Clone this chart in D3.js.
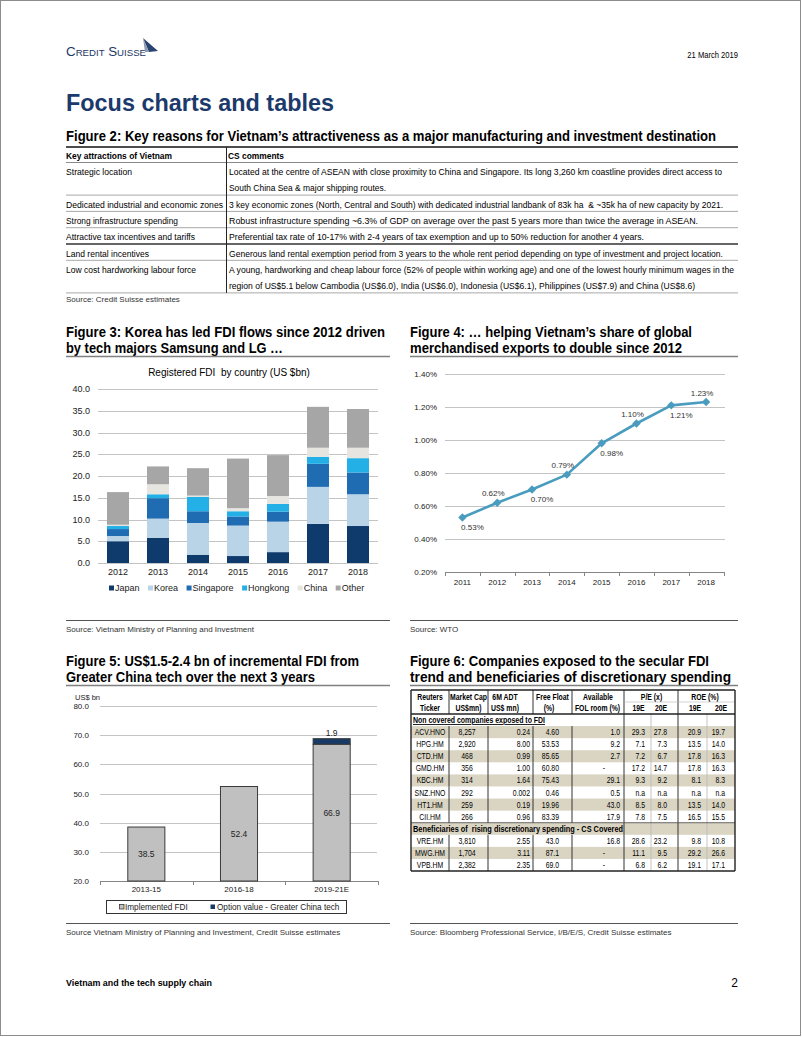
<!DOCTYPE html>
<html><head><meta charset="utf-8">
<script src="https://cdn.jsdelivr.net/npm/d3@7"></script>
<style>
html,body{margin:0;padding:0;background:#fff;}
svg{display:block;}
text{font-family:"Liberation Sans",Arial,Helvetica,sans-serif;white-space:pre;}
</style></head><body>
<script>
// ---------------- DATA ----------------
// Figure 2 table
const attractions = ["Strategic location","Dedicated industrial and economic zones","Strong infrastructure spending","Attractive tax incentives and tariffs","Land rental incentives","Low cost hardworking labour force"];
const comments = [
  ["Located at the centre of ASEAN with close proximity to China and Singapore. Its long 3,260 km coastline provides direct access to","South China Sea & major shipping routes."],
  ["3 key economic zones (North, Central and South) with dedicated industrial landbank of 83k ha  & ~35k ha of new capacity by 2021."],
  ["Robust infrastructure spending ~6.3% of GDP on average over the past 5 years more than twice the average in ASEAN."],
  ["Preferential tax rate of 10-17% with 2-4 years of tax exemption and up to 50% reduction for another 4 years."],
  ["Generous land rental exemption period from 3 years to the whole rent period depending on type of investment and project location."],
  ["A young, hardworking and cheap labour force (52% of people within working age) and one of the lowest hourly minimum wages in the","region of US$5.1 below Cambodia (US$6.0), India (US$6.0), Indonesia (US$6.1), Philippines (US$7.9) and China (US$8.6)"]
];
// Figure 3 stacked bars (US$bn)
const fdiYears = ["2012","2013","2014","2015","2016","2017","2018"];
const fdiSeries = ["Japan","Korea","Singapore","Hongkong","China","Other"];
const fdiJapan     = [5.0, 5.8, 1.9, 1.6, 2.5, 9.0, 8.5];
const fdiKorea     = [1.2, 4.4, 7.3, 7.0, 7.0, 8.5, 7.3];
const fdiSingapore = [1.6, 4.7, 2.7, 2.1, 2.3, 5.3, 5.0];
const fdiHongkong  = [0.7, 0.9, 3.3, 1.2, 1.8, 1.6, 3.3];
const fdiChina     = [0.3, 2.3, 0.3, 0.7, 1.8, 2.1, 2.4];
const fdiOther     = [7.5, 4.1, 6.3, 11.4, 9.4, 9.4, 8.9];
const fdiTicks = [0,5,10,15,20,25,30,35,40];
// Figure 4 line (%)
const shareYears = ["2011","2012","2013","2014","2015","2016","2017","2018"];
const shareValues = [0.53, 0.62, 0.70, 0.79, 0.98, 1.10, 1.21, 1.23];
const shareTicks = [0.2,0.4,0.6,0.8,1.0,1.2,1.4];
// Figure 5 bars (US$bn)
const incPeriods = ["2013-15","2016-18","2019-21E"];
const incImplemented = [38.5, 52.4, 66.9];
const incOption = [0, 0, 1.9];
const incTicks = [20,30,40,50,60,70,80];
const incSeries = ["Implemented FDI","Option value - Greater China tech"];
// Figure 6 table
const t6Sections = ["Non covered companies exposed to FDI","Beneficiaries of  rising discretionary spending - CS Covered"];
const t6SectionSizes = [8, 3];
const tickers   = ["ACV.HNO","HPG.HM","CTD.HM","GMD.HM","KBC.HM","SNZ.HNO","HT1.HM","CII.HM","VRE.HM","MWG.HM","VPB.HM"];
const marketCap = ["8,257","2,920","468","356","314","292","259","266","3,810","1,704","2,382"];
const adt6m     = ["0.24","8.00","0.99","1.00","1.64","0.002","0.19","0.96","2.55","3.11","2.35"];
const freeFloat = ["4.60","53.53","85.65","60.80","75.43","0.46","19.96","83.39","43.0","87.1","69.0"];
const folRoom   = ["1.0","9.2","2.7","-","29.1","0.5","43.0","17.9","16.8","-","-"];
const pe19      = ["29.3","7.1","7.2","17.2","9.3","n.a","8.5","7.8","28.6","11.1","6.8"];
const pe20      = ["27.8","7.3","6.7","14.7","9.2","n.a","8.0","7.5","23.2","9.5","6.2"];
const roe19     = ["20.9","13.5","17.8","17.8","8.1","n.a","13.5","16.5","9.8","29.2","19.1"];
const roe20     = ["19.7","14.0","16.3","16.3","8.3","n.a","14.0","15.5","10.8","26.6","17.1"];
const t6Head1 = ["Reuters","Market Cap","6M ADT","Free Float","Available","P/E (x)","ROE (%)"];
const t6Head2 = ["Ticker","US$mn)","US$ mn)","(%)","FOL room (%)","19E","20E","19E","20E"];

// ---------------- STYLE ----------------
const fdiColors = ["#0e3a6c","#b9d4e7","#1f6cb3","#22b0e6","#e6e5e0","#a6a6a6"];
const navy = "#1b3a6b";

// ---------------- HELPERS ----------------
const svg = d3.select("body").append("svg").attr("width",802).attr("height",1037);
svg.append("rect").attr("width",802).attr("height",1037).attr("fill","#fff");
svg.append("rect").attr("x",0.5).attr("y",0.5).attr("width",800).attr("height",1035)
  .attr("fill","none").attr("stroke","#8c8c8c");

function txt(g, x, y, s, o = {}) {
  const t = g.append("text").attr("x", x).attr("y", y)
    .attr("font-size", o.size || 9).attr("fill", o.fill || "#000").text(s);
  if (o.weight) t.attr("font-weight", o.weight);
  if (o.anchor) t.attr("text-anchor", o.anchor);
  if (o.family) t.attr("font-family", o.family);
  if (o.width) t.attr("textLength", o.width).attr("lengthAdjust", "spacingAndGlyphs");
  if (o.sx && o.sx !== 1) t.attr("x", 0).attr("y", 0).attr("transform", `translate(${x},${y}) scale(${o.sx},1)`);
  if (o.deco) t.attr("text-decoration", o.deco);
  if (o.variant) t.style("font-variant", o.variant);
  return t;
}
function ln(g, x1, y1, x2, y2, stroke, w) {
  return g.append("line").attr("x1",x1).attr("y1",y1).attr("x2",x2).attr("y2",y2)
    .attr("stroke",stroke).attr("stroke-width",w||1);
}
const crisp = v => Math.round(v) + 0.5;

// ---------------- HEADER ----------------
txt(svg, 66, 56, "Credit Suisse", {size:12.5, family:"'Liberation Serif',serif", fill:"#1e3764", width:80, variant:"small-caps"});
svg.append("path").attr("d","M143,38 L158,51 L149,52 Z").attr("fill","#2a4470");
svg.append("path").attr("d","M143,38 L149,52 L145,52 Z").attr("fill","#8e9bb3");
txt(svg, 738, 58, "21 March 2019", {size:9.5, anchor:"end", sx:0.8});
txt(svg, 66, 111, "Focus charts and tables", {size:24.5, weight:"bold", fill:navy, width:268});

// ---------------- FIGURE 2 ----------------
const g2 = svg.append("g");
txt(g2, 66, 141, "Figure 2: Key reasons for Vietnam\u2019s attractiveness as a major manufacturing and investment destination", {size:14.5, weight:"bold", width:650});
ln(g2, 66, 147, 738, 147, "#4d4d4d", 2);
txt(g2, 66, 158.5, "Key attractions of Vietnam", {size:9.6, weight:"bold", width:106});
txt(g2, 228, 158.5, "CS comments", {size:9.6, weight:"bold", width:56});
ln(g2, 66, 162.5, 738, 162.5, "#8a8a8a", 1);
const leftW = [66, 157, 112, 129, 83, 130];
const rightW = [[493,157],[494],[469],[415],[494],[505,466]];
const lh = 16.3;
let top2 = 162.5;
attractions.forEach((a, i) => {
  txt(g2, 66, top2 + 12.5, a, {size:9.6, width:leftW[i]});
  comments[i].forEach((c, j) => txt(g2, 229, top2 + 12.5 + j*lh, c, {size:9, width:rightW[i][j]}));
  top2 += comments[i].length * lh;
  const dark = i === 3;
  ln(g2, 66, top2, 738, top2, dark ? "#333" : "#a8a8a8", dark ? 1.3 : 1);
});
ln(g2, 226.5, 147, 226.5, top2, "#222", 1);
txt(g2, 66, 302, "Source: Credit Suisse estimates", {size:8, fill:"#333"});

// ---------------- FIGURE 3 ----------------
const g3 = svg.append("g");
txt(g3, 66, 337, "Figure 3: Korea has led FDI flows since 2012 driven", {size:14.5, weight:"bold", width:319});
txt(g3, 66, 352.5, "by tech majors Samsung and LG \u2026", {size:14.5, weight:"bold", width:217});
ln(g3, 66, 356.5, 390, 356.5, "#808080", 1.5);
txt(g3, 229, 375.5, "Registered FDI  by country (US $bn)", {size:10, anchor:"middle"});
const x3 = d3.scaleBand().domain(fdiYears).range([98,378]).paddingInner(0.45).paddingOuter(0.225);
const y3 = d3.scaleLinear().domain([0,40]).range([563,389]);
fdiTicks.forEach(v => {
  ln(g3, 98, crisp(y3(v)), 378, crisp(y3(v)), "#c4c4c4", 1);
  txt(g3, 90, y3(v) + 3, d3.format(".1f")(v), {size:9, anchor:"end", fill:"#222"});
});
const fdiBySeries = [fdiJapan, fdiKorea, fdiSingapore, fdiHongkong, fdiChina, fdiOther];
const rows3 = fdiYears.map((yr, i) => {
  const o = {year: yr};
  fdiSeries.forEach((s, k) => o[s] = fdiBySeries[k][i]);
  return o;
});
const stack3 = d3.stack().keys(fdiSeries)(rows3);
g3.append("g").selectAll("g").data(stack3).join("g")
  .attr("fill", (d, k) => fdiColors[k])
  .selectAll("rect").data(d => d).join("rect")
  .attr("x", d => x3(d.data.year)).attr("width", x3.bandwidth())
  .attr("y", d => y3(d[1])).attr("height", d => y3(d[0]) - y3(d[1]));
fdiYears.forEach(yr => txt(g3, x3(yr) + x3.bandwidth()/2, 575, yr, {size:9, anchor:"middle", fill:"#222"}));
let lx = 109;
fdiSeries.forEach((s, k) => {
  g3.append("rect").attr("x", lx).attr("y", 585.5).attr("width", 5).attr("height", 5).attr("fill", fdiColors[k]);
  const t = txt(g3, lx + 6, 591, s, {size:9, fill:"#222"});
  lx += 6 + t.node().getComputedTextLength() + 8.5;
});
ln(g3, 66, 620.5, 390, 620.5, "#555", 1.2);
txt(g3, 66, 632, "Source: Vietnam Ministry of Planning and Investment", {size:8, fill:"#333"});

// ---------------- FIGURE 4 ----------------
const g4 = svg.append("g");
txt(g4, 410, 337, "Figure 4: \u2026 helping Vietnam\u2019s share of global", {size:14.5, weight:"bold", width:282});
txt(g4, 410, 352.5, "merchandised exports to double since 2012", {size:14.5, weight:"bold", width:272});
ln(g4, 410, 356.5, 738, 356.5, "#808080", 1.5);
const x4 = d3.scaleBand().domain(shareYears).range([445,723.5]);
const y4 = d3.scaleLinear().domain([0.2,1.4]).range([572,374]);
shareTicks.forEach(v => {
  if (v > 0.21) ln(g4, 445, crisp(y4(v)), 725, crisp(y4(v)), "#c4c4c4", 1);
  txt(g4, 437, y4(v) + 3, d3.format(".2f")(v) + "%", {size:8, anchor:"end", fill:"#222"});
});
ln(g4, 445, crisp(y4(0.2)), 725, crisp(y4(0.2)), "#868686", 1);
d3.range(shareYears.length + 1).forEach(i => {
  const xx = crisp(445 + i * x4.step());
  ln(g4, xx, y4(0.2), xx, y4(0.2) + 4, "#868686", 1);
});
shareYears.forEach(yr => txt(g4, x4(yr) + x4.bandwidth()/2, 584.5, yr, {size:8, anchor:"middle", fill:"#222"}));
const cx4 = (d, i) => x4(shareYears[i]) + x4.bandwidth()/2;
g4.append("path").datum(shareValues)
  .attr("d", d3.line().x(cx4).y(d => y4(d)))
  .attr("fill","none").attr("stroke","#4a9cbf").attr("stroke-width",2.6).attr("stroke-linejoin","round");
g4.selectAll("path.mk").data(shareValues).join("path").attr("class","mk")
  .attr("d","M0,-4.2 L4.2,0 L0,4.2 L-4.2,0 Z")
  .attr("transform",(d,i)=>`translate(${cx4(d,i)},${y4(d)})`)
  .attr("fill","#4a9cbf");
shareValues.forEach((v, i) => {
  const below = i % 2 === 0;
  txt(g4, cx4(v,i) + (below ? 10 : -4), y4(v) + (below ? 12.5 : -6.5), d3.format(".2f")(v) + "%", {size:8, anchor:"middle", fill:"#333"});
});
ln(g4, 410, 620.5, 738, 620.5, "#555", 1.2);
txt(g4, 410, 632, "Source: WTO", {size:8, fill:"#333"});

// ---------------- FIGURE 5 ----------------
const g5 = svg.append("g");
txt(g5, 66, 666, "Figure 5: US$1.5-2.4 bn of incremental FDI from", {size:14.5, weight:"bold", width:293});
txt(g5, 66, 681.5, "Greater China tech over the next 3 years", {size:14.5, weight:"bold", width:249});
ln(g5, 66, 685.5, 390, 685.5, "#808080", 1.5);
const x5 = d3.scaleBand().domain(incPeriods).range([100,378]).paddingInner(0.6).paddingOuter(0.3);
const y5 = d3.scaleLinear().domain([20,80]).range([881,706]);
txt(g5, 75, 699.5, "US$ bn", {size:7.5, fill:"#222"});
incTicks.forEach(v => {
  if (v > 20) ln(g5, 100, crisp(y5(v)), 377, crisp(y5(v)), "#c4c4c4", 1);
  txt(g5, 89, y5(v) + 3, d3.format(".1f")(v), {size:8, anchor:"end", fill:"#222"});
});
ln(g5, 100, crisp(y5(20)), 378, crisp(y5(20)), "#868686", 1);
d3.range(incPeriods.length + 1).forEach(i => {
  const xx = crisp(100 + i * x5.step());
  ln(g5, xx, y5(20), xx, y5(20) + 4, "#868686", 1);
});
incPeriods.forEach((p, i) => {
  const x = x5(p), w = x5.bandwidth();
  g5.append("rect").attr("x", x).attr("y", y5(incImplemented[i])).attr("width", w)
    .attr("height", y5(20) - y5(incImplemented[i])).attr("fill","#c0c0c0").attr("stroke","#3a3a3a").attr("stroke-width",1);
  txt(g5, x + w/2, (y5(incImplemented[i]) + y5(20))/2 + 3, d3.format(".1f")(incImplemented[i]), {size:8.5, anchor:"middle", fill:"#222"});
  if (incOption[i] > 0) {
    const top = incImplemented[i] + incOption[i];
    g5.append("rect").attr("x", x).attr("y", y5(top)).attr("width", w)
      .attr("height", y5(incImplemented[i]) - y5(top)).attr("fill","#173a66").attr("stroke","#3a3a3a").attr("stroke-width",1);
    txt(g5, x + w/2, y5(top) - 3, d3.format(".1f")(incOption[i]), {size:8.5, anchor:"middle", fill:"#222"});
  }
  txt(g5, x + w/2, 892, p, {size:8, anchor:"middle", fill:"#222"});
});
g5.append("rect").attr("x",106.5).attr("y",900.5).attr("width",240).attr("height",13).attr("fill","none").attr("stroke","#333");
g5.append("rect").attr("x",119.5).attr("y",904.5).attr("width",4.5).attr("height",4.5).attr("fill","#c0c0c0").attr("stroke","#3a3a3a").attr("stroke-width",0.8);
txt(g5, 125, 910, incSeries[0], {size:8.2, fill:"#222"});
g5.append("rect").attr("x",210.5).attr("y",904.5).attr("width",4.5).attr("height",4.5).attr("fill","#173a66");
txt(g5, 217, 910, incSeries[1], {size:8.2, fill:"#222"});
ln(g5, 66, 923.5, 390, 923.5, "#555", 1.2);
txt(g5, 66, 935, "Source Vietnam Ministry of Planning and Investment, Credit Suisse estimates", {size:8, fill:"#333"});

// ---------------- FIGURE 6 ----------------
const g6 = svg.append("g");
txt(g6, 410, 666, "Figure 6: Companies exposed to the secular FDI", {size:14.5, weight:"bold", width:299});
txt(g6, 410, 681.5, "trend and beneficiaries of discretionary spending", {size:14.5, weight:"bold", width:321});
ln(g6, 410, 685.5, 738, 685.5, "#808080", 1.5);
const majors6 = [449,488,533,572,624,678];
const t6Top = 690, t6HeadBot = 714, t6RH = 12.08;
const tS = {size:8.6, sx:0.8};
const rows6 = [];
let di = 0;
t6Sections.forEach((s, si) => {
  rows6.push({section: s, si});
  for (let k = 0; k < t6SectionSizes[si]; k++) { rows6.push({idx: di}); di++; }
});
const t6Bot = t6HeadBot + rows6.length * t6RH;
rows6.forEach((r, i) => {
  if (i % 2 === 1) g6.append("rect").attr("x", 411).attr("y", t6HeadBot + i*t6RH).attr("width", 324).attr("height", t6RH).attr("fill", "#dad5c3");
});
const h1x = [430, 468.5, 505, 552.5, 598, 651.5, 705];
t6Head1.forEach((h, i) => txt(g6, h1x[i], 699.5, h, {...tS, weight:"bold", anchor:"middle"}));
const h2x = [430, 468.5, 505, 549, 597.5, 638.5, 661, 695, 721];
t6Head2.forEach((h, i) => txt(g6, h2x[i], 711, h, {...tS, weight:"bold", anchor:"middle"}));
const colsData = [tickers, marketCap, adt6m, freeFloat, folRoom, pe19, pe20, roe19, roe20];
const align6 = [["middle",430],["middle",467],["end",530],["end",559],["end",620],["end",645],["end",667],["end",701],["end",725]];
rows6.forEach((r, i) => {
  const cy = t6HeadBot + i*t6RH + t6RH/2 + 3;
  if (r.section !== undefined) {
    txt(g6, 413, cy, r.section, {size:8.6, weight:"bold", width: r.si === 0 ? 132 : 210, deco: r.si === 0 ? "underline" : null});
  } else {
    colsData.forEach((col, c) => {
      const v = col[r.idx];
      if (v === "-") txt(g6, c === 4 ? 604 : align6[c][1] - 4, cy, v, {...tS, anchor:"middle"});
      else txt(g6, align6[c][1], cy, v, {...tS, anchor: align6[c][0]});
    });
  }
});
rows6.forEach((r, i) => {
  const y0 = t6HeadBot + i*t6RH, y1 = y0 + t6RH;
  majors6.forEach(x => { if (r.section === undefined || x >= 624) ln(g6, x, y0, x, y1, "#333", 1); });
  [651, 707].forEach(x => ln(g6, x, y0, x, y1, "#b5b5b5", 0.8));
});
majors6.forEach(x => ln(g6, x, t6Top, x, t6HeadBot, "#333", 1));
ln(g6, 624, 702, 735, 702, "#b5b5b5", 0.6);
ln(g6, 411, t6Top, 735, t6Top, "#222", 1.4);
ln(g6, 411, t6HeadBot, 735, t6HeadBot, "#222", 1.4);
ln(g6, 411, t6HeadBot + 9*t6RH, 735, t6HeadBot + 9*t6RH, "#444", 0.8);
ln(g6, 411, t6Bot, 735, t6Bot, "#222", 1.4);
ln(g6, 411, t6Top, 411, t6Bot, "#222", 1.4);
ln(g6, 735, t6Top, 735, t6Bot, "#222", 1.4);
ln(g6, 410, 923.5, 738, 923.5, "#555", 1.2);
txt(g6, 410, 935, "Source: Bloomberg Professional Service, I/B/E/S, Credit Suisse estimates", {size:8, fill:"#333"});

// ---------------- FOOTER ----------------
txt(svg, 66, 986, "Vietnam and the tech supply chain", {size:9.5, weight:"bold", width:146});
txt(svg, 738, 987, "2", {size:12, anchor:"end"});
</script>
</body></html>
